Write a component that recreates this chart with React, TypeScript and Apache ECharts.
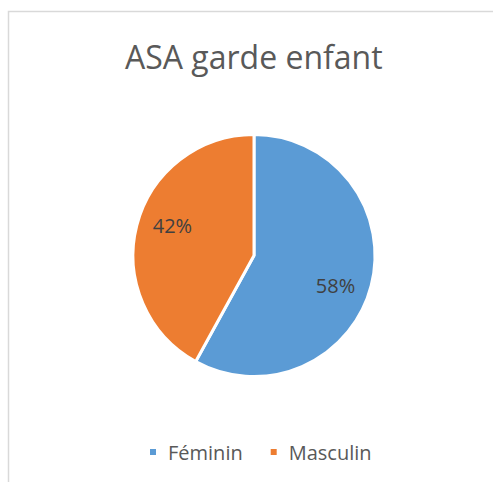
import React, { useEffect, useRef } from "react";
import * as echarts from "echarts";

const categories = ["Féminin", "Masculin"];
const values = [58, 42];
const colors = ["#5B9BD5", "#ED7D31"];
const titleText = "ASA garde enfant";

export default function App() {
  const ref = useRef<HTMLDivElement>(null);
  useEffect(() => {
    if (!ref.current) return;
    const chart = echarts.init(ref.current, null, { renderer: "svg" });
    const data = categories.map((name, i) => ({
      name,
      value: values[i],
      itemStyle: { color: colors[i] },
    }));
    const font = "'Open Sans', sans-serif";
    chart.setOption({
      animation: false,
      backgroundColor: "#ffffff",
      title: {
        text: titleText,
        left: 125,
        top: 38,
        padding: 0,
        textStyle: {
          fontFamily: font,
          fontSize: 32,
          fontWeight: "normal",
          color: "#595959",
          lineHeight: 36,
        },
      },
      legend: {
        data: categories,
        left: 148,
        top: 441,
        padding: 0,
        icon: "rect",
        itemWidth: 8,
        itemHeight: 8,
        itemGap: 26,
        textStyle: {
          fontFamily: font,
          fontSize: 20,
          color: "#595959",
          padding: [0, 0, 0, 6],
          lineHeight: 22,
        },
      },
      graphic: [
        {
          type: "rect",
          shape: { x: 8.5, y: 11.5, width: 1000, height: 1000 },
          style: { fill: "none", stroke: "#D9D9D9", lineWidth: 1.5 },
          silent: true,
        },
      ],
      series: [
        {
          type: "pie",
          center: [254, 255.5],
          radius: [0, 121],
          startAngle: 90,
          clockwise: true,
          data,
          label: { show: false },
          labelLine: { show: false },
          itemStyle: { borderColor: "#ffffff", borderWidth: 3 },
          emphasis: { disabled: true },
          silent: true,
        },
        {
          type: "pie",
          center: [254, 255.5],
          radius: [0, 168],
          startAngle: 84,
          clockwise: true,
          data: categories.map((name, i) => ({ name, value: values[i] })),
          itemStyle: { color: "rgba(0,0,0,0)" },
          label: {
            show: true,
            position: "inside",
            formatter: "{c}%",
            fontFamily: font,
            fontSize: 20,
            color: "#404040",
          },
          labelLine: { show: false },
          emphasis: { disabled: true },
          silent: true,
          legendHoverLink: false,
        },
      ],
    });
    return () => chart.dispose();
  }, []);
  return (
    <div
      ref={ref}
      style={{ position: "absolute", left: 0, top: 0, width: 493, height: 482 }}
    />
  );
}
